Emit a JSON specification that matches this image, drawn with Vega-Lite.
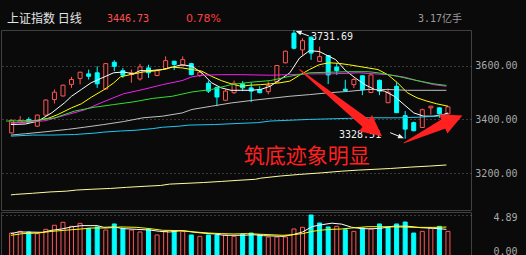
{
  "$schema": "https://vega.github.io/schema/vega-lite/v6.json",
  "background": "#0a0a0a",
  "padding": 0,
  "spacing": 0,
  "bounds": "full",
  "config": {"view": {"stroke": null}},
  "resolve": {"scale": {"x": "independent", "y": "independent"}},
  "datasets": {
    "k": [
      {"i":1,"o":3350,"h":3399,"l":3348,"c":3397,"v":2.84,"vd":"u"},
      {"i":2,"o":3390,"h":3412,"l":3385,"c":3396,"v":3.03,"vd":"u"},
      {"i":3,"o":3400,"h":3408,"l":3387,"c":3391,"v":2.96,"vd":"d"},
      {"i":4,"o":3375,"h":3418,"l":3373,"c":3416,"v":2.77,"vd":"u"},
      {"i":5,"o":3416,"h":3474,"l":3414,"c":3472,"v":3.26,"vd":"u"},
      {"i":6,"o":3474,"h":3511,"l":3459,"c":3501,"v":3.72,"vd":"u"},
      {"i":7,"o":3487,"h":3529,"l":3485,"c":3527,"v":4.06,"vd":"u"},
      {"i":8,"o":3530,"h":3558,"l":3517,"c":3548,"v":3.60,"vd":"u"},
      {"i":9,"o":3552,"h":3577,"l":3530,"c":3575,"v":3.94,"vd":"u"},
      {"i":10,"o":3569,"h":3585,"l":3548,"c":3560,"v":3.37,"vd":"d"},
      {"i":11,"o":3573,"h":3597,"l":3517,"c":3532,"v":3.53,"vd":"d"},
      {"i":12,"o":3513,"h":3609,"l":3511,"c":3607,"v":3.18,"vd":"u"},
      {"i":13,"o":3612,"h":3620,"l":3579,"c":3597,"v":3.87,"vd":"d"},
      {"i":14,"o":3581,"h":3591,"l":3554,"c":3564,"v":3.37,"vd":"d"},
      {"i":15,"o":3567,"h":3585,"l":3536,"c":3573,"v":3.18,"vd":"u"},
      {"i":16,"o":3550,"h":3606,"l":3544,"c":3595,"v":2.96,"vd":"u"},
      {"i":17,"o":3591,"h":3603,"l":3554,"c":3573,"v":3.26,"vd":"d"},
      {"i":18,"o":3563,"h":3585,"l":3560,"c":3581,"v":2.62,"vd":"u"},
      {"i":19,"o":3587,"h":3634,"l":3585,"c":3618,"v":3.03,"vd":"u"},
      {"i":20,"o":3616,"h":3617,"l":3583,"c":3604,"v":3.03,"vd":"d"},
      {"i":21,"o":3600,"h":3634,"l":3598,"c":3622,"v":3.03,"vd":"u"},
      {"i":22,"o":3607,"h":3610,"l":3564,"c":3566,"v":2.62,"vd":"d"},
      {"i":23,"o":3563,"h":3581,"l":3557,"c":3575,"v":2.46,"vd":"u"},
      {"i":24,"o":3534,"h":3544,"l":3498,"c":3505,"v":2.62,"vd":"d"},
      {"i":25,"o":3519,"h":3521,"l":3449,"c":3483,"v":2.62,"vd":"d"},
      {"i":26,"o":3471,"h":3511,"l":3468,"c":3505,"v":2.62,"vd":"u"},
      {"i":27,"o":3499,"h":3544,"l":3495,"c":3534,"v":2.46,"vd":"u"},
      {"i":28,"o":3532,"h":3542,"l":3505,"c":3517,"v":2.73,"vd":"d"},
      {"i":29,"o":3517,"h":3538,"l":3464,"c":3505,"v":2.84,"vd":"d"},
      {"i":30,"o":3511,"h":3523,"l":3497,"c":3499,"v":2.65,"vd":"d"},
      {"i":31,"o":3503,"h":3541,"l":3493,"c":3526,"v":2.39,"vd":"u"},
      {"i":32,"o":3540,"h":3602,"l":3538,"c":3600,"v":2.39,"vd":"u"},
      {"i":33,"o":3610,"h":3655,"l":3608,"c":3653,"v":2.39,"vd":"u"},
      {"i":34,"o":3720,"h":3731.69,"l":3660,"c":3664,"v":3.30,"vd":"u"},
      {"i":35,"o":3658,"h":3701,"l":3639,"c":3692,"v":3.49,"vd":"u"},
      {"i":36,"o":3705,"h":3708,"l":3621,"c":3646,"v":4.89,"vd":"d"},
      {"i":37,"o":3615,"h":3670,"l":3613,"c":3633,"v":3.98,"vd":"d"},
      {"i":38,"o":3637,"h":3638,"l":3531,"c":3565,"v":3.53,"vd":"d"},
      {"i":39,"o":3594,"h":3608,"l":3565,"c":3581,"v":3.60,"vd":"u"},
      {"i":40,"o":3512,"h":3547,"l":3504,"c":3507,"v":3.22,"vd":"d"},
      {"i":41,"o":3529,"h":3553,"l":3516,"c":3548,"v":3.03,"vd":"u"},
      {"i":42,"o":3562,"h":3563,"l":3490,"c":3510,"v":3.41,"vd":"d"},
      {"i":43,"o":3500,"h":3569,"l":3498,"c":3565,"v":3.30,"vd":"u"},
      {"i":44,"o":3545,"h":3548,"l":3490,"c":3505,"v":3.87,"vd":"d"},
      {"i":45,"o":3462,"h":3515,"l":3460,"c":3501,"v":3.53,"vd":"d"},
      {"i":46,"o":3523,"h":3538,"l":3424,"c":3425,"v":3.87,"vd":"d"},
      {"i":47,"o":3414,"h":3431,"l":3328.51,"c":3364,"v":4.09,"vd":"d"},
      {"i":48,"o":3388,"h":3392,"l":3356,"c":3358,"v":2.84,"vd":"d"},
      {"i":49,"o":3370,"h":3440,"l":3368,"c":3436,"v":3.03,"vd":"u"},
      {"i":50,"o":3443,"h":3450,"l":3418,"c":3449,"v":3.41,"vd":"u"},
      {"i":51,"o":3443,"h":3445,"l":3406,"c":3421,"v":3.60,"vd":"d"},
      {"i":52,"o":3421,"h":3448,"l":3416,"c":3446.73,"v":3.03,"vd":"u"}
    ],
    "ma": [
      {"s":"MA5","t":0.91,"v":3381},{"s":"MA5","t":2.62,"v":3383},{"s":"MA5","t":4.11,"v":3394},{"s":"MA5","t":5.71,"v":3425},{"s":"MA5","t":7.20,"v":3462},{"s":"MA5","t":8.00,"v":3486},{"s":"MA5","t":9.15,"v":3511},{"s":"MA5","t":10.29,"v":3536},{"s":"MA5","t":11.43,"v":3552},{"s":"MA5","t":12.92,"v":3573},{"s":"MA5","t":14.07,"v":3576},{"s":"MA5","t":15.21,"v":3569},{"s":"MA5","t":16.01,"v":3581},{"s":"MA5","t":17.16,"v":3581},{"s":"MA5","t":18.64,"v":3585},{"s":"MA5","t":19.79,"v":3594},{"s":"MA5","t":20.93,"v":3603},{"s":"MA5","t":22.08,"v":3597},{"s":"MA5","t":23.22,"v":3573},{"s":"MA5","t":24.36,"v":3536},{"s":"MA5","t":25.51,"v":3517},{"s":"MA5","t":26.65,"v":3508},{"s":"MA5","t":27.80,"v":3508},{"s":"MA5","t":28.94,"v":3508},{"s":"MA5","t":30.09,"v":3511},{"s":"MA5","t":31.23,"v":3523},{"s":"MA5","t":32.38,"v":3548},{"s":"MA5","t":33.52,"v":3573},{"s":"MA5","t":34.66,"v":3628},{"s":"MA5","t":35.81,"v":3655},{"s":"MA5","t":36.95,"v":3652},{"s":"MA5","t":37.72,"v":3640},{"s":"MA5","t":38.86,"v":3622},{"s":"MA5","t":40.01,"v":3582},{"s":"MA5","t":41.15,"v":3554},{"s":"MA5","t":42.29,"v":3529},{"s":"MA5","t":43.44,"v":3511},{"s":"MA5","t":44.58,"v":3505},{"s":"MA5","t":45.73,"v":3486},{"s":"MA5","t":46.87,"v":3455},{"s":"MA5","t":48.01,"v":3424},{"s":"MA5","t":49.16,"v":3412},{"s":"MA5","t":50.30,"v":3412},{"s":"MA5","t":51.45,"v":3418},{"s":"MA5","t":52.02,"v":3424},
      {"s":"MA10","t":0.91,"v":3387},{"s":"MA10","t":2.62,"v":3390},{"s":"MA10","t":4.11,"v":3397},{"s":"MA10","t":5.26,"v":3404},{"s":"MA10","t":6.40,"v":3418},{"s":"MA10","t":8.00,"v":3443},{"s":"MA10","t":9.15,"v":3458},{"s":"MA10","t":10.29,"v":3482},{"s":"MA10","t":11.78,"v":3510},{"s":"MA10","t":12.92,"v":3535},{"s":"MA10","t":13.72,"v":3558},{"s":"MA10","t":14.87,"v":3566},{"s":"MA10","t":16.36,"v":3576},{"s":"MA10","t":17.50,"v":3579},{"s":"MA10","t":18.64,"v":3585},{"s":"MA10","t":19.79,"v":3594},{"s":"MA10","t":20.93,"v":3591},{"s":"MA10","t":22.08,"v":3585},{"s":"MA10","t":23.22,"v":3579},{"s":"MA10","t":24.36,"v":3560},{"s":"MA10","t":25.51,"v":3544},{"s":"MA10","t":26.65,"v":3532},{"s":"MA10","t":27.80,"v":3523},{"s":"MA10","t":28.94,"v":3527},{"s":"MA10","t":30.09,"v":3529},{"s":"MA10","t":31.23,"v":3532},{"s":"MA10","t":32.38,"v":3536},{"s":"MA10","t":33.52,"v":3542},{"s":"MA10","t":34.66,"v":3564},{"s":"MA10","t":35.81,"v":3585},{"s":"MA10","t":36.95,"v":3603},{"s":"MA10","t":38.10,"v":3610},{"s":"MA10","t":39.24,"v":3608},{"s":"MA10","t":40.38,"v":3603},{"s":"MA10","t":41.53,"v":3597},{"s":"MA10","t":42.67,"v":3591},{"s":"MA10","t":43.82,"v":3585},{"s":"MA10","t":44.96,"v":3566},{"s":"MA10","t":46.10,"v":3536},{"s":"MA10","t":47.25,"v":3499},{"s":"MA10","t":48.39,"v":3480},{"s":"MA10","t":49.54,"v":3468},{"s":"MA10","t":50.68,"v":3458},{"s":"MA10","t":52.02,"v":3449},
      {"s":"MA20","t":0.91,"v":3387},{"s":"MA20","t":2.62,"v":3390},{"s":"MA20","t":4.91,"v":3395},{"s":"MA20","t":7.20,"v":3415},{"s":"MA20","t":9.49,"v":3435},{"s":"MA20","t":11.78,"v":3466},{"s":"MA20","t":14.07,"v":3495},{"s":"MA20","t":16.36,"v":3511},{"s":"MA20","t":18.64,"v":3529},{"s":"MA20","t":20.93,"v":3544},{"s":"MA20","t":22.08,"v":3558},{"s":"MA20","t":23.22,"v":3564},{"s":"MA20","t":25.51,"v":3566},{"s":"MA20","t":27.80,"v":3566},{"s":"MA20","t":31.23,"v":3564},{"s":"MA20","t":33.52,"v":3566},{"s":"MA20","t":35.81,"v":3569},{"s":"MA20","t":38.10,"v":3569},{"s":"MA20","t":40.38,"v":3571},{"s":"MA20","t":41.53,"v":3573},{"s":"MA20","t":44.96,"v":3566},{"s":"MA20","t":46.91,"v":3557},{"s":"MA20","t":48.39,"v":3544},{"s":"MA20","t":50.34,"v":3529},{"s":"MA20","t":51.82,"v":3523},
      {"s":"MA30","t":0.34,"v":3394},{"s":"MA30","t":3.77,"v":3396},{"s":"MA30","t":6.06,"v":3406},{"s":"MA30","t":8.35,"v":3431},{"s":"MA30","t":10.63,"v":3445},{"s":"MA30","t":12.92,"v":3455},{"s":"MA30","t":15.21,"v":3465},{"s":"MA30","t":17.50,"v":3478},{"s":"MA30","t":19.79,"v":3486},{"s":"MA30","t":22.08,"v":3502},{"s":"MA30","t":24.36,"v":3511},{"s":"MA30","t":26.65,"v":3529},{"s":"MA30","t":28.94,"v":3538},{"s":"MA30","t":31.23,"v":3544},{"s":"MA30","t":33.52,"v":3560},{"s":"MA30","t":35.81,"v":3573},{"s":"MA30","t":38.10,"v":3575},{"s":"MA30","t":40.38,"v":3577},{"s":"MA30","t":42.67,"v":3577},{"s":"MA30","t":43.82,"v":3573},{"s":"MA30","t":46.10,"v":3560},{"s":"MA30","t":48.39,"v":3544},{"s":"MA30","t":50.34,"v":3532},{"s":"MA30","t":51.82,"v":3526},
      {"s":"MA60","t":0.91,"v":3342},{"s":"MA60","t":2.62,"v":3347},{"s":"MA60","t":4.91,"v":3354},{"s":"MA60","t":7.54,"v":3363},{"s":"MA60","t":9.49,"v":3371},{"s":"MA60","t":11.78,"v":3381},{"s":"MA60","t":14.07,"v":3392},{"s":"MA60","t":16.36,"v":3406},{"s":"MA60","t":18.64,"v":3412},{"s":"MA60","t":20.93,"v":3424},{"s":"MA60","t":22.08,"v":3437},{"s":"MA60","t":24.36,"v":3449},{"s":"MA60","t":26.65,"v":3461},{"s":"MA60","t":28.94,"v":3470},{"s":"MA60","t":31.23,"v":3478},{"s":"MA60","t":33.52,"v":3486},{"s":"MA60","t":35.81,"v":3492},{"s":"MA60","t":38.10,"v":3499},{"s":"MA60","t":40.38,"v":3504},{"s":"MA60","t":42.67,"v":3511},{"s":"MA60","t":44.96,"v":3511},{"s":"MA60","t":47.25,"v":3508},{"s":"MA60","t":49.54,"v":3508},{"s":"MA60","t":51.82,"v":3508},
      {"s":"MA120","t":0.91,"v":3338},{"s":"MA120","t":3.43,"v":3342},{"s":"MA120","t":5.71,"v":3342},{"s":"MA120","t":8.35,"v":3344},{"s":"MA120","t":10.63,"v":3349},{"s":"MA120","t":11.78,"v":3353},{"s":"MA120","t":13.72,"v":3357},{"s":"MA120","t":15.55,"v":3360},{"s":"MA120","t":17.50,"v":3366},{"s":"MA120","t":18.64,"v":3371},{"s":"MA120","t":20.59,"v":3375},{"s":"MA120","t":21.73,"v":3379},{"s":"MA120","t":24.71,"v":3381},{"s":"MA120","t":27.45,"v":3385},{"s":"MA120","t":29.74,"v":3388},{"s":"MA120","t":31.23,"v":3394},{"s":"MA120","t":35.81,"v":3400},{"s":"MA120","t":40.38,"v":3404},{"s":"MA120","t":42.67,"v":3406},{"s":"MA120","t":46.10,"v":3406},{"s":"MA120","t":48.39,"v":3408},{"s":"MA120","t":50.68,"v":3412},{"s":"MA120","t":51.82,"v":3418},
      {"s":"MA250","t":0.91,"v":3120},{"s":"MA250","t":1.48,"v":3122},{"s":"MA250","t":3.43,"v":3126},{"s":"MA250","t":5.49,"v":3131},{"s":"MA250","t":7.43,"v":3134},{"s":"MA250","t":8.57,"v":3138},{"s":"MA250","t":10.41,"v":3141},{"s":"MA250","t":12.58,"v":3144},{"s":"MA250","t":14.41,"v":3148},{"s":"MA250","t":16.58,"v":3152},{"s":"MA250","t":18.42,"v":3155},{"s":"MA250","t":19.45,"v":3160},{"s":"MA250","t":21.50,"v":3163},{"s":"MA250","t":23.45,"v":3166},{"s":"MA250","t":25.51,"v":3170},{"s":"MA250","t":27.45,"v":3174},{"s":"MA250","t":29.51,"v":3178},{"s":"MA250","t":30.09,"v":3182},{"s":"MA250","t":32.38,"v":3190},{"s":"MA250","t":34.66,"v":3196},{"s":"MA250","t":37.30,"v":3202},{"s":"MA250","t":39.58,"v":3208},{"s":"MA250","t":41.53,"v":3212},{"s":"MA250","t":43.47,"v":3215},{"s":"MA250","t":45.30,"v":3218},{"s":"MA250","t":47.59,"v":3223},{"s":"MA250","t":49.88,"v":3227},{"s":"MA250","t":51.82,"v":3231}
    ],
    "vma": [
      {"s":"V5","t":0.91,"v":2.77},{"s":"V5","t":1.82,"v":2.96},{"s":"V5","t":4.57,"v":2.92},{"s":"V5","t":5.71,"v":3.15},{"s":"V5","t":6.86,"v":3.30},{"s":"V5","t":8.00,"v":3.53},{"s":"V5","t":9.15,"v":3.68},{"s":"V5","t":10.98,"v":3.68},{"s":"V5","t":11.78,"v":3.49},{"s":"V5","t":12.92,"v":3.53},{"s":"V5","t":14.07,"v":3.34},{"s":"V5","t":15.55,"v":3.26},{"s":"V5","t":17.16,"v":3.18},{"s":"V5","t":18.30,"v":3.03},{"s":"V5","t":19.45,"v":2.96},{"s":"V5","t":20.93,"v":3.11},{"s":"V5","t":22.08,"v":2.96},{"s":"V5","t":23.22,"v":2.84},{"s":"V5","t":24.71,"v":2.73},{"s":"V5","t":25.85,"v":2.58},{"s":"V5","t":26.99,"v":2.58},{"s":"V5","t":28.14,"v":2.58},{"s":"V5","t":29.29,"v":2.65},{"s":"V5","t":30.43,"v":2.54},{"s":"V5","t":32.72,"v":2.46},{"s":"V5","t":33.86,"v":2.65},{"s":"V5","t":35.01,"v":2.96},{"s":"V5","t":36.15,"v":3.58},{"s":"V5","t":37.30,"v":3.79},{"s":"V5","t":38.44,"v":3.96},{"s":"V5","t":39.58,"v":3.85},{"s":"V5","t":40.73,"v":3.50},{"s":"V5","t":41.87,"v":3.34},{"s":"V5","t":43.01,"v":3.32},{"s":"V5","t":44.16,"v":3.38},{"s":"V5","t":45.65,"v":3.62},{"s":"V5","t":47.25,"v":3.62},{"s":"V5","t":48.74,"v":3.45},{"s":"V5","t":50.22,"v":3.38},{"s":"V5","t":51.82,"v":3.26},
      {"s":"V10","t":0.91,"v":2.58},{"s":"V10","t":2.28,"v":2.77},{"s":"V10","t":4.11,"v":2.84},{"s":"V10","t":5.71,"v":3.03},{"s":"V10","t":7.20,"v":3.15},{"s":"V10","t":9.15,"v":3.30},{"s":"V10","t":10.29,"v":3.41},{"s":"V10","t":12.12,"v":3.41},{"s":"V10","t":13.72,"v":3.53},{"s":"V10","t":15.55,"v":3.49},{"s":"V10","t":17.16,"v":3.34},{"s":"V10","t":18.64,"v":3.15},{"s":"V10","t":20.93,"v":3.11},{"s":"V10","t":22.42,"v":2.96},{"s":"V10","t":24.02,"v":2.84},{"s":"V10","t":25.51,"v":2.77},{"s":"V10","t":26.99,"v":2.73},{"s":"V10","t":28.60,"v":2.77},{"s":"V10","t":30.09,"v":2.70},{"s":"V10","t":32.72,"v":2.58},{"s":"V10","t":33.86,"v":2.65},{"s":"V10","t":35.01,"v":2.77},{"s":"V10","t":36.15,"v":3.03},{"s":"V10","t":37.30,"v":3.18},{"s":"V10","t":38.44,"v":3.26},{"s":"V10","t":39.58,"v":3.30},{"s":"V10","t":40.73,"v":3.41},{"s":"V10","t":42.67,"v":3.56},{"s":"V10","t":44.16,"v":3.56},{"s":"V10","t":46.45,"v":3.52},{"s":"V10","t":48.74,"v":3.48},{"s":"V10","t":50.22,"v":3.48},{"s":"V10","t":51.82,"v":3.52}
    ],
    "arrows": [
      {"a":"A","t":34.66,"p":3585,"k":0},
      {"a":"A","t":42.40,"p":3386,"k":1},
      {"a":"B","t":46.87,"p":3313,"k":0},
      {"a":"B","t":51.47,"p":3383,"k":1}
    ]
  },
  "vconcat": [
    {
      "hconcat": [
        {"width": 100, "height": 29, "data": {"values": [{}]}, "mark": {"type": "text", "text": ""}, "encoding": {},
         "title": {"text": "上证指数 日线", "orient": "bottom", "anchor": "start", "frame": "group", "offset": -10.5, "dx": 6, "baseline": "middle", "color": "#e4e4e4", "font": "Noto Sans CJK SC", "fontSize": 12, "fontWeight": "normal"}},
        {"width": 79, "height": 29, "data": {"values": [{}]}, "mark": {"type": "text", "text": ""}, "encoding": {},
         "title": {"text": "3446.73", "orient": "bottom", "anchor": "start", "frame": "group", "offset": -10.5, "dx": 6, "baseline": "middle", "color": "#ff5050", "font": "DejaVu Sans Mono", "fontSize": 10, "fontWeight": "normal"}},
        {"width": 232, "height": 29, "data": {"values": [{}]}, "mark": {"type": "text", "text": ""}, "encoding": {},
         "title": {"text": "0.78%", "orient": "bottom", "anchor": "start", "frame": "group", "offset": -10.5, "dx": 6, "baseline": "middle", "color": "#ff4040", "font": "DejaVu Sans", "fontSize": 11, "fontWeight": "normal"}},
        {"width": 115, "height": 29, "data": {"values": [{}]}, "mark": {"type": "text", "text": ""}, "encoding": {},
         "title": {"text": "3.17亿手", "orient": "bottom", "anchor": "start", "frame": "group", "offset": -10.5, "dx": 6, "baseline": "middle", "color": "#9a9a9a", "font": "DejaVu Sans Mono, Noto Sans CJK SC", "fontSize": 10, "fontWeight": "normal"}}
      ],
      "spacing": 0,
      "bounds": "flush"
    },
    {
      "width": 470,
      "height": 180,
      "view": {"stroke": "#404040"},
      "layer": [
        {
          "data": {"name": "k"},
          "mark": {"type": "rule", "strokeWidth": 1},
          "encoding": {
            "x": {"field": "i", "type": "quantitative", "scale": {"domain": [0.34, 54.11], "nice": false, "zero": false}, "axis": null},
            "y": {"field": "l", "type": "quantitative", "scale": {"domain": [3064, 3731.7], "nice": false, "zero": false},
                  "axis": {"orient": "right", "title": null, "values": [3200, 3400, 3600], "format": ".2f", "grid": true, "gridColor": "#6a6a6a", "gridDash": [1, 3], "ticks": false, "domain": false, "labelColor": "#a8a8a8", "labelFont": "DejaVu Sans Mono", "labelFontSize": 10, "labelAlign": "right", "labelPadding": 46}},
            "y2": {"field": "h"},
            "color": {"condition": {"test": "datum.c >= datum.o", "value": "#ff5555"}, "value": "#00ffff"}
          }
        },
        {
          "data": {"name": "k"},
          "mark": {"type": "bar", "width": 4, "strokeWidth": 1},
          "encoding": {
            "x": {"field": "i", "type": "quantitative"},
            "y": {"field": "o", "type": "quantitative"},
            "y2": {"field": "c"},
            "fill": {"condition": {"test": "datum.c >= datum.o", "value": "#0a0a0a"}, "value": "#00ffff"},
            "stroke": {"condition": {"test": "datum.c >= datum.o", "value": "#ff5555"}, "value": "#00ffff"}
          }
        },
        {
          "data": {"name": "ma"},
          "mark": {"type": "line", "strokeWidth": 1},
          "encoding": {
            "x": {"field": "t", "type": "quantitative"},
            "y": {"field": "v", "type": "quantitative"},
            "color": {"field": "s", "type": "nominal", "legend": null,
                      "scale": {"domain": ["MA5", "MA10", "MA20", "MA30", "MA60", "MA120", "MA250"], "range": ["#ffffff", "#ffff00", "#f020f0", "#30e030", "#c0c0c0", "#20c8f0", "#fdfd9e"]}}
          }
        },
        {
          "data": {"name": "k"},
          "transform": [{"filter": "datum.h == 3731.69"}],
          "mark": {"type": "text", "align": "left", "baseline": "middle", "dx": 17, "dy": 7, "color": "#f0f0f0", "font": "DejaVu Sans Mono", "fontSize": 10},
          "encoding": {"x": {"field": "i", "type": "quantitative"}, "y": {"field": "h", "type": "quantitative"}, "text": {"field": "h", "type": "quantitative", "format": ".2f"}}
        },
        {
          "data": {"name": "k"},
          "transform": [{"filter": "datum.h == 3731.69"}],
          "mark": {"type": "rule", "color": "#f0f0f0", "strokeWidth": 1, "xOffset": 3, "yOffset": 1.5, "x2Offset": 15, "y2Offset": 6},
          "encoding": {"x": {"field": "i", "type": "quantitative"}, "y": {"field": "h", "type": "quantitative"}, "x2": {"field": "i"}, "y2": {"field": "h"}}
        },
        {
          "data": {"name": "k"},
          "transform": [{"filter": "datum.h == 3731.69"}],
          "mark": {"type": "point", "shape": "M-1,0L1,-0.8L1,0.8Z", "filled": true, "opacity": 1, "color": "#f0f0f0", "size": 36, "angle": 21, "xOffset": 4.5, "yOffset": 2},
          "encoding": {"x": {"field": "i", "type": "quantitative"}, "y": {"field": "h", "type": "quantitative"}}
        },
        {
          "data": {"name": "k"},
          "transform": [{"filter": "datum.l == 3328.51"}],
          "mark": {"type": "text", "align": "right", "baseline": "middle", "dx": -24, "dy": -4, "color": "#f0f0f0", "font": "DejaVu Sans Mono", "fontSize": 10},
          "encoding": {"x": {"field": "i", "type": "quantitative"}, "y": {"field": "l", "type": "quantitative"}, "text": {"field": "l", "type": "quantitative", "format": ".2f"}}
        },
        {
          "data": {"name": "k"},
          "transform": [{"filter": "datum.l == 3328.51"}],
          "mark": {"type": "rule", "color": "#f0f0f0", "strokeWidth": 1, "xOffset": -15, "yOffset": -6, "x2Offset": -3, "y2Offset": -1.2},
          "encoding": {"x": {"field": "i", "type": "quantitative"}, "y": {"field": "l", "type": "quantitative"}, "x2": {"field": "i"}, "y2": {"field": "l"}}
        },
        {
          "data": {"name": "k"},
          "transform": [{"filter": "datum.l == 3328.51"}],
          "mark": {"type": "point", "shape": "M1,0L-1,-0.8L-1,0.8Z", "filled": true, "opacity": 1, "color": "#f0f0f0", "size": 36, "angle": 21, "xOffset": -4, "yOffset": -1.6},
          "encoding": {"x": {"field": "i", "type": "quantitative"}, "y": {"field": "l", "type": "quantitative"}}
        },
        {
          "data": {"name": "arrows"},
          "mark": {"type": "trail", "color": "#ff2020"},
          "encoding": {
            "x": {"field": "t", "type": "quantitative"},
            "y": {"field": "p", "type": "quantitative"},
            "detail": {"field": "a"},
            "size": {"field": "k", "type": "quantitative", "scale": {"domain": [0, 1], "range": [1, 10]}, "legend": null}
          }
        },
        {
          "data": {"values": [{}]},
          "mark": {"type": "point", "shape": "M1,0L-1,-1L-1,1Z", "filled": true, "opacity": 1, "color": "#ff2020", "size": 440, "angle": 38.6},
          "encoding": {"x": {"datum": 43.33}, "y": {"datum": 3362}}
        },
        {
          "data": {"values": [{}]},
          "mark": {"type": "point", "shape": "M1,0L-1,-1L-1,1Z", "filled": true, "opacity": 1, "color": "#ff2020", "size": 440, "angle": -23.4},
          "encoding": {"x": {"datum": 52.57}, "y": {"datum": 3399}}
        },
        {
          "data": {"values": [{}]},
          "mark": {"type": "text", "text": "筑底迹象明显", "align": "left", "baseline": "middle", "font": "Noto Sans CJK SC", "fontSize": 21, "color": "#ff2020"},
          "encoding": {"x": {"datum": 28.14}, "y": {"datum": 3260}}
        }
      ]
    },
    {
      "width": 470,
      "height": 46,
      "view": {"stroke": "#404040"},
      "layer": [
        {
          "data": {"name": "k"},
          "mark": {"type": "bar", "width": 4, "strokeWidth": 1},
          "encoding": {
            "x": {"field": "i", "type": "quantitative", "scale": {"domain": [0.34, 54.11], "nice": false, "zero": false}, "axis": null},
            "y": {"field": "v", "type": "quantitative", "scale": {"domain": [0, 5.23], "nice": false},
                  "axis": {"orient": "right", "title": null, "values": [0, 4.89], "format": ".2f", "grid": true, "gridColor": "#6a6a6a", "gridDash": [1, 3], "ticks": false, "domain": false, "labelColor": "#a8a8a8", "labelFont": "DejaVu Sans Mono", "labelFontSize": 10, "labelAlign": "right", "labelPadding": 46,
                           "labelBaseline": {"condition": {"test": "datum.value > 0", "value": "top"}, "value": "bottom"},
                           "labelOffset": {"condition": {"test": "datum.value > 0", "value": -2.5}, "value": -2}}},
            "fill": {"condition": {"test": "datum.vd == 'u'", "value": "#0a0a0a"}, "value": "#00ffff"},
            "stroke": {"condition": {"test": "datum.vd == 'u'", "value": "#ff5555"}, "value": "#00ffff"}
          }
        },
        {
          "data": {"name": "vma"},
          "mark": {"type": "line", "strokeWidth": 1},
          "encoding": {
            "x": {"field": "t", "type": "quantitative"},
            "y": {"field": "v", "type": "quantitative"},
            "color": {"field": "s", "type": "nominal", "legend": null, "scale": {"domain": ["V5", "V10"], "range": ["#ffff00", "#ff00ff"]}}
          }
        }
      ]
    }
  ]
}
